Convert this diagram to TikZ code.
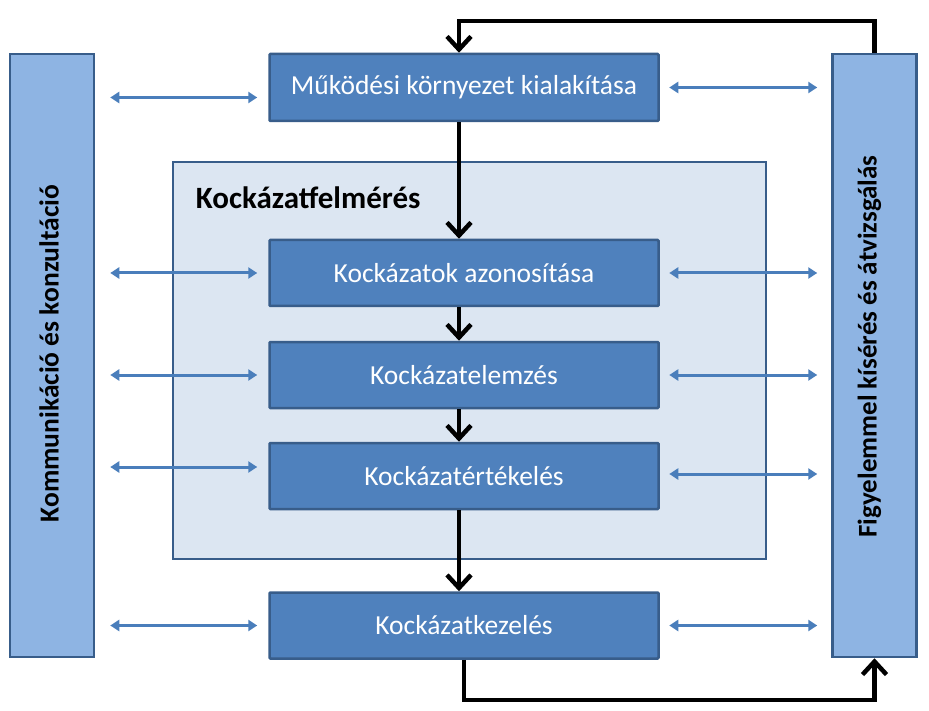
\documentclass[tikz,border=0pt]{standalone}
\usepackage{fontspec}
\setmainfont{Carlito}
\usetikzlibrary{arrows.meta,calc}
\definecolor{boxfill}{HTML}{4F81BD}
\definecolor{boxline}{HTML}{385D8A}
\definecolor{barfill}{HTML}{8EB4E3}
\definecolor{contfill}{HTML}{DCE6F2}
\definecolor{biarrow}{HTML}{4A7EBB}
\begin{document}
\begin{tikzpicture}[x=1pt,y=-1pt,
 stepbox/.style={draw=boxline, line width=2.5pt, fill=boxfill, rounded corners=1pt, minimum width=389pt, minimum height=66pt, inner sep=0pt, text=white, font=\fontsize{27.5}{32}\selectfont},
 sidebar/.style={draw=boxline, line width=2.5pt, fill=barfill, minimum width=84pt, minimum height=603pt, inner sep=0pt},
 blk/.style={line width=4.5pt, black, -{Straight Barb[length=13pt,width=24pt]}},
 bi/.style={biarrow, line width=3pt, {Triangle[length=9pt,width=11pt]}-{Triangle[length=9pt,width=11pt]}},
 sidetext/.style={font=\bfseries\fontsize{27.5}{32}\selectfont, rotate=90, inner sep=0pt}
]
\useasboundingbox (0,0) rectangle (929,711);
\fill[white] (0,0) rectangle (929,711);

% side bars
\node[sidebar] (L) at (52,355.5) {};
\node[sidebar] (R) at (874.5,355.5) {};
\node[sidetext] (Ltx) at ([xshift=-3pt,yshift=2pt]L.center) {Kommunikáció és konzultáció};
\node[sidetext, font=\bfseries\fontsize{27}{32}\selectfont] (Rtx) at ([xshift=-5pt,yshift=9pt]R.center) {Figyelemmel kísérés és átvizsgálás};

% container
\node[draw=boxline, line width=2.5pt, fill=contfill, minimum width=593pt, minimum height=397pt, inner sep=0pt] (C) at (469.5,360.5) {};
\node[anchor=base west, font=\bfseries\fontsize{31}{36}\selectfont, inner sep=0pt] (Clabel) at ([xshift=24pt,yshift=-48pt]C.north west) {Kockázatfelmérés};

% process boxes
\node[stepbox, minimum height=67pt] (B1) at (464,87.5) {Működési környezet kialakítása};
\node[stepbox] (B2) at (464,273) {Kockázatok azonosítása};
\node[stepbox] (B3) at (464,375) {Kockázatelemzés};
\node[stepbox] (B4) at (464,476) {Kockázatértékelés};
\node[stepbox] (B5) at (464,625.5) {Kockázatkezelés};

% main flow
\coordinate (vx) at (459,0);
\coordinate (topy) at (0,21);
\coordinate (boty) at (0,700);
\draw[blk] (B1.south -| vx) -- (B2.north -| vx);
\draw[blk] (B2.south -| vx) -- (B3.north -| vx);
\draw[blk] (B3.south -| vx) -- (B4.north -| vx);
\draw[blk] (B4.south -| vx) -- (B5.north -| vx);
\draw[blk, line join=miter] (R.north) -- (R.north |- topy) -- (vx |- topy) -- (B1.north -| vx);
\draw[blk, line join=miter] (B5.south) -- (B5.south |- boty) -| (R.south);

% bidirectional arrows
\coordinate (a1) at ([yshift=-10pt]B1.west);
\coordinate (a4) at ([yshift=9pt]B4.west);
\coordinate (b4) at ([yshift=2pt]B4.east);
\draw[bi, shorten <=15pt, shorten >=11pt] (L.east |- a1) -- (a1);
\draw[bi, shorten <=9.5pt, shorten >=14pt] (B1.east) -- (R.west |- B1.east);
\draw[bi, shorten <=15pt, shorten >=11pt] (L.east |- B2.west) -- (B2.west);
\draw[bi, shorten <=9.5pt, shorten >=14pt] (B2.east) -- (R.west |- B2.east);
\draw[bi, shorten <=15pt, shorten >=11pt] (L.east |- B3.west) -- (B3.west);
\draw[bi, shorten <=9.5pt, shorten >=14pt] (B3.east) -- (R.west |- B3.east);
\draw[bi, shorten <=15pt, shorten >=11pt] (L.east |- a4) -- (a4);
\draw[bi, shorten <=9.5pt, shorten >=14pt] (b4) -- (R.west |- b4);
\draw[bi, shorten <=15pt, shorten >=11pt] (L.east |- B5.west) -- (B5.west);
\draw[bi, shorten <=9.5pt, shorten >=14pt] (B5.east) -- (R.west |- B5.east);
\end{tikzpicture}
\end{document}
